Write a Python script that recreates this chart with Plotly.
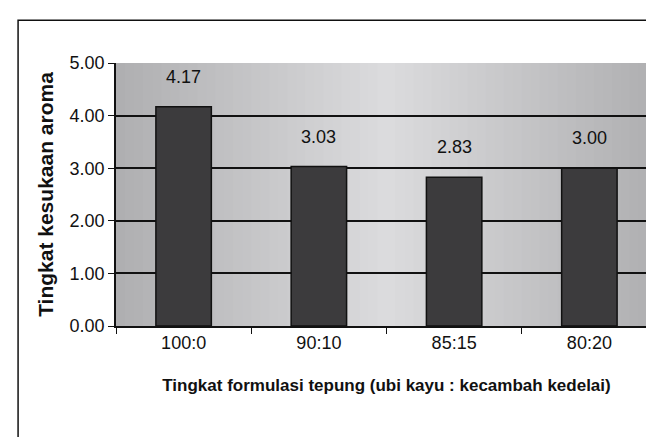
import plotly.graph_objects as go

formulasi = ["100:0", "90:10", "85:15", "80:20"]
kesukaan_aroma = [4.17, 3.03, 2.83, 3.00]
y_ticks = [0, 1, 2, 3, 4, 5]

fig = go.Figure()
fig.add_bar(x=formulasi, y=kesukaan_aroma,
            marker=dict(color="#3c3b3d", line=dict(color="#111111", width=1.5)),
            width=0.41, hoverinfo="x+y")

# gray, slightly lighter in the middle like the scanned background
shapes = []
n = 60
for i in range(n):
    t = (i + 0.5) / n
    d = abs(t - 0.5)
    g = int(220 - 90 * d)
    shapes.append(dict(type="rect", xref="paper", yref="paper",
                       x0=i / n, x1=(i + 1) / n + 0.002, y0=0, y1=1,
                       fillcolor=f"rgb({g},{g},{g + 2})", line_width=0,
                       layer="below"))
# outer frame of the chart (right and bottom edges fall outside the picture)
shapes.append(dict(type="rect", xref="paper", yref="paper",
                   x0=-0.181, x1=1.05, y0=-0.5, y1=1.163,
                   line=dict(color="#111111", width=1.5), fillcolor="rgba(0,0,0,0)"))

for cat, v in zip(formulasi, kesukaan_aroma):
    fig.add_annotation(x=cat, y=v, text=f"{v:.2f}", showarrow=False,
                       yanchor="bottom", yshift=18,
                       font=dict(size=18, color="#111111"))

fig.update_layout(
    width=654, height=437,
    margin=dict(l=108, r=5, t=55, b=119),
    paper_bgcolor="white", plot_bgcolor="#c8c8c8",
    font=dict(family="Liberation Sans, Arial, sans-serif", size=18, color="#111111"),
    shapes=shapes, showlegend=False,
)
fig.update_xaxes(showline=True, linecolor="#111111", linewidth=1.5, automargin=False,
                 ticks="outside", tickson="boundaries", ticklen=6, tickcolor="#111111",
                 showgrid=False, title=dict(text="<b>Tingkat formulasi tepung (ubi kayu : kecambah kedelai)</b>",
                                            standoff=27, font=dict(size=17)),
                 range=[-0.5, 3.5])
fig.update_yaxes(range=[0, 5], tickvals=y_ticks, tickformat=".2f", automargin=False,
                 showline=True, linecolor="#111111", linewidth=1.5,
                 ticks="outside", ticklen=6, tickcolor="#111111",
                 showgrid=True, gridcolor="#111111", gridwidth=1.5, zeroline=False,
                 title=dict(text="<b>Tingkat kesukaan aroma</b>", standoff=10, font=dict(size=21)))

fig.write_html("out.html")
